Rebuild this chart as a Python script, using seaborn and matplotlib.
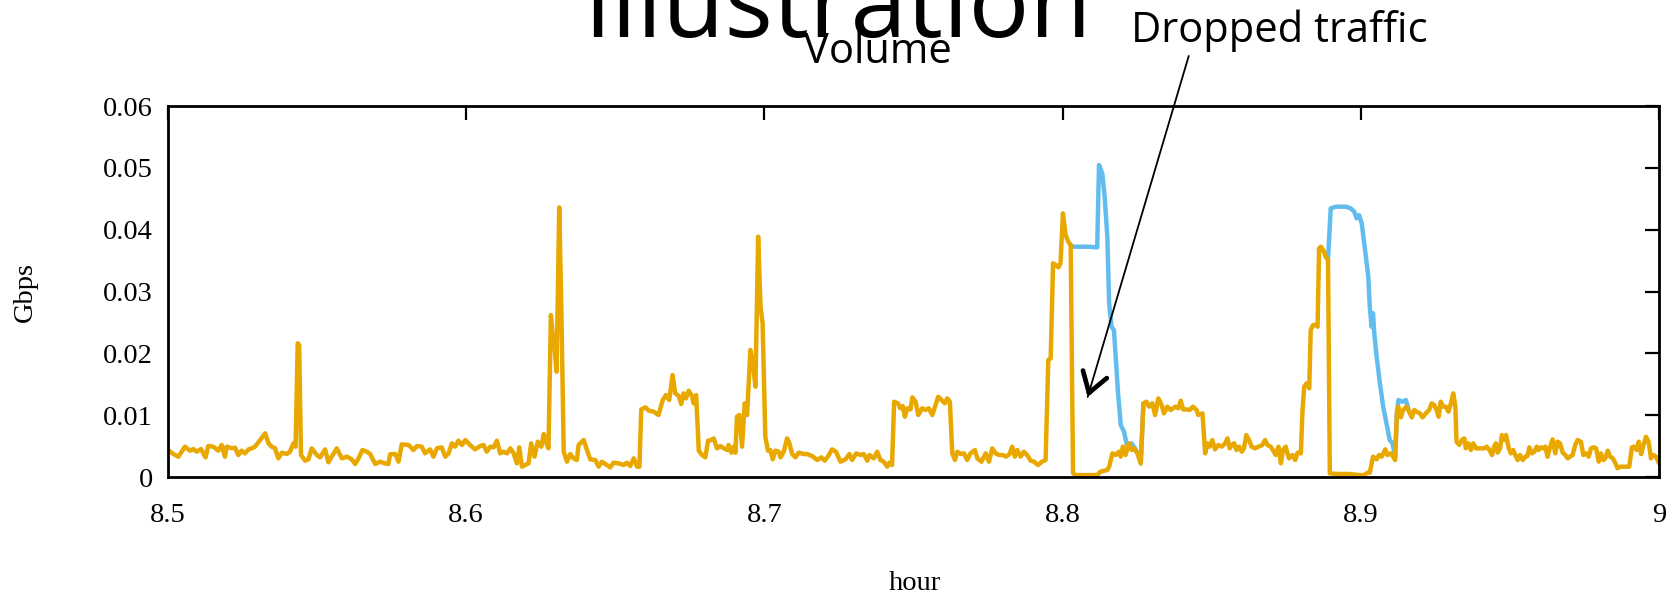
import pandas as pd
import numpy as np

import seaborn as sns
import matplotlib.pyplot as plt


# delivered traffic (orange), hour of day vs Gbps
hours_out = [
    8.5000, 8.5018, 8.5035, 8.5057, 8.5074, 8.5085, 8.5096, 8.5111, 8.5126, 8.5135,
    8.5152, 8.5169, 8.5180, 8.5191, 8.5197, 8.5214, 8.5225, 8.5236, 8.5247, 8.5258,
    8.5270, 8.5281, 8.5292, 8.5309, 8.5326, 8.5337, 8.5348, 8.5359, 8.5370, 8.5382,
    8.5398, 8.5409, 8.5421, 8.5428, 8.5435, 8.5440, 8.5446, 8.5460, 8.5471, 8.5482,
    8.5499, 8.5510, 8.5527, 8.5538, 8.5549, 8.5566, 8.5583, 8.5600, 8.5616, 8.5628,
    8.5639, 8.5652, 8.5667, 8.5678, 8.5695, 8.5711, 8.5728, 8.5739, 8.5745, 8.5762,
    8.5773, 8.5784, 8.5807, 8.5823, 8.5835, 8.5851,
    8.5862, 8.5879, 8.5890, 8.5902, 8.5918, 8.5930, 8.5941, 8.5952, 8.5963, 8.5974,
    8.5986, 8.5997, 8.6013, 8.6030, 8.6047, 8.6058, 8.6069, 8.6081, 8.6092, 8.6103,
    8.6114, 8.6125, 8.6137, 8.6148, 8.6159, 8.6170, 8.6178, 8.6187, 8.6198, 8.6209,
    8.6218, 8.6229, 8.6240, 8.6252, 8.6260, 8.6267, 8.6276, 8.6284, 8.6291, 8.6296,
    8.6303, 8.6312, 8.6319, 8.6327, 8.6338, 8.6349, 8.6360, 8.6371, 8.6377, 8.6394,
    8.6405, 8.6416, 8.6433, 8.6444, 8.6455, 8.6472, 8.6483, 8.6494, 8.6511, 8.6528,
    8.6539, 8.6550, 8.6562, 8.6573, 8.6581, 8.6587, 8.6601, 8.6612, 8.6629, 8.6645,
    8.6659, 8.6670, 8.6681, 8.6692, 8.6701,
    8.6713, 8.6721, 8.6729, 8.6737, 8.6746, 8.6757, 8.6763, 8.6771, 8.6780, 8.6791,
    8.6802, 8.6811, 8.6822, 8.6830, 8.6841, 8.6852, 8.6864, 8.6875, 8.6880, 8.6889,
    8.6897, 8.6903, 8.6908, 8.6916, 8.6925, 8.6934, 8.6942, 8.6953, 8.6961, 8.6970,
    8.6979, 8.6987, 8.6994, 8.7003, 8.7012, 8.7020, 8.7028, 8.7037, 8.7048, 8.7054,
    8.7065, 8.7076, 8.7084, 8.7093, 8.7104, 8.7115, 8.7132, 8.7143, 8.7160, 8.7177,
    8.7191, 8.7202, 8.7214, 8.7227, 8.7240, 8.7255, 8.7272, 8.7285, 8.7294, 8.7308,
    8.7322, 8.7333, 8.7345, 8.7352, 8.7367, 8.7378, 8.7389, 8.7400, 8.7412, 8.7419,
    8.7428, 8.7435, 8.7448, 8.7456, 8.7464, 8.7471, 8.7479, 8.7490, 8.7496, 8.7507,
    8.7516, 8.7529, 8.7540,
    8.7551, 8.7563, 8.7572, 8.7583, 8.7594, 8.7605, 8.7613, 8.7622, 8.7630, 8.7639,
    8.7647, 8.7658, 8.7669, 8.7680, 8.7691, 8.7706, 8.7714, 8.7728, 8.7742, 8.7753,
    8.7764, 8.7775, 8.7787, 8.7800, 8.7811, 8.7822, 8.7831, 8.7840, 8.7848, 8.7859,
    8.7870, 8.7881, 8.7893, 8.7904, 8.7918, 8.7930, 8.7943, 8.7952, 8.7960, 8.7968,
    8.7977, 8.7986, 8.7993, 8.8001, 8.8010, 8.8019, 8.8027, 8.8035, 8.8044, 8.8066,
    8.8088, 8.8116, 8.8127, 8.8139, 8.8150, 8.8156, 8.8167, 8.8178, 8.8189, 8.8195,
    8.8202, 8.8211, 8.8222, 8.8231, 8.8239, 8.8251, 8.8262, 8.8271, 8.8281, 8.8290,
    8.8301, 8.8310, 8.8321, 8.8332, 8.8340, 8.8351, 8.8362, 8.8379,
    8.8388, 8.8396, 8.8404, 8.8415, 8.8426, 8.8437, 8.8449, 8.8455, 8.8469, 8.8478,
    8.8485, 8.8493, 8.8502, 8.8511, 8.8522, 8.8534, 8.8545, 8.8553, 8.8560, 8.8567,
    8.8575, 8.8583, 8.8592, 8.8601, 8.8608, 8.8616, 8.8625, 8.8634, 8.8645, 8.8657,
    8.8670, 8.8679, 8.8687, 8.8698, 8.8706, 8.8715, 8.8724, 8.8732, 8.8739, 8.8748,
    8.8759, 8.8771, 8.8780, 8.8788, 8.8799, 8.8804, 8.8810, 8.8818, 8.8827, 8.8832,
    8.8840, 8.8849, 8.8855, 8.8860, 8.8866, 8.8874, 8.8882, 8.8890, 8.8896, 8.8927,
    8.8961, 8.8994, 8.9011, 8.9022, 8.9030, 8.9041, 8.9053, 8.9061, 8.9070, 8.9082,
    8.9089, 8.9101, 8.9115, 8.9121, 8.9126, 8.9134, 8.9142, 8.9153, 8.9162, 8.9171,
    8.9179, 8.9187, 8.9198, 8.9207, 8.9218,
    8.9229, 8.9238, 8.9246, 8.9254, 8.9261, 8.9268, 8.9276, 8.9285, 8.9294, 8.9302,
    8.9310, 8.9317, 8.9321, 8.9330, 8.9339, 8.9347, 8.9352, 8.9361, 8.9369, 8.9377,
    8.9386, 8.9395, 8.9403, 8.9414, 8.9422, 8.9431, 8.9440, 8.9447, 8.9453, 8.9459,
    8.9467, 8.9473, 8.9481, 8.9487, 8.9496, 8.9503, 8.9511, 8.9518, 8.9526, 8.9534,
    8.9543, 8.9552, 8.9559, 8.9565, 8.9574, 8.9582, 8.9590, 8.9596, 8.9604, 8.9612,
    8.9619, 8.9626, 8.9632, 8.9643, 8.9652, 8.9660, 8.9668, 8.9677, 8.9686, 8.9694,
    8.9701, 8.9710, 8.9719, 8.9727, 8.9738, 8.9746, 8.9755, 8.9764, 8.9772, 8.9780,
    8.9789, 8.9798, 8.9805, 8.9813, 8.9820, 8.9828, 8.9836, 8.9845, 8.9854, 8.9861,
    8.9869, 8.9878, 8.9889, 8.9900, 8.9909, 8.9917, 8.9925, 8.9932, 8.9940, 8.9945,
    8.9956, 8.9965, 8.9973, 8.9981, 8.9990, 9.0000,
]
gbps_out = [
    0.00437, 0.00372, 0.00329, 0.00491, 0.00426, 0.00453, 0.00410, 0.00453, 0.00318, 0.00501,
    0.00491, 0.00426, 0.00518, 0.00329, 0.00491, 0.00464, 0.00474, 0.00356, 0.00426, 0.00383,
    0.00447, 0.00464, 0.00491, 0.00598, 0.00706, 0.00545, 0.00491, 0.00464, 0.00302, 0.00394,
    0.00372, 0.00410, 0.00545, 0.00491, 0.02162, 0.02135, 0.00356, 0.00264, 0.00286, 0.00464,
    0.00356, 0.00318, 0.00447, 0.00237, 0.00329, 0.00464, 0.00302, 0.00329, 0.00286, 0.00210,
    0.00302, 0.00437, 0.00410, 0.00372, 0.00210, 0.00248, 0.00221, 0.00210, 0.00367, 0.00372,
    0.00248, 0.00528, 0.00518, 0.00437, 0.00501, 0.00491,
    0.00383, 0.00447, 0.00329, 0.00464, 0.00480, 0.00329, 0.00383, 0.00545, 0.00491, 0.00588,
    0.00518, 0.00598, 0.00518, 0.00447, 0.00501, 0.00518, 0.00410, 0.00491, 0.00480, 0.00588,
    0.00383, 0.00410, 0.00383, 0.00464, 0.00383, 0.00221, 0.00480, 0.00167, 0.00194, 0.00221,
    0.00545, 0.00329, 0.00571, 0.00491, 0.00695, 0.00571, 0.00464, 0.02620, 0.02270, 0.02108,
    0.01704, 0.04361, 0.02755, 0.00410, 0.00248, 0.00372, 0.00302, 0.00275, 0.00518, 0.00598,
    0.00437, 0.00286, 0.00275, 0.00167, 0.00248, 0.00194, 0.00156, 0.00232, 0.00221, 0.00194,
    0.00232, 0.00178, 0.00302, 0.00167, 0.00167, 0.01094, 0.01127, 0.01073, 0.01057, 0.01003,
    0.01245, 0.01326, 0.01245, 0.01650, 0.01353,
    0.01310, 0.01181, 0.01353, 0.01272, 0.01396, 0.01310, 0.01191, 0.01326, 0.00426, 0.00356,
    0.00318, 0.00588, 0.00598, 0.00625, 0.00464, 0.00501, 0.00464, 0.00437, 0.00518, 0.00394,
    0.00491, 0.00394, 0.00976, 0.01003, 0.00491, 0.01191, 0.01003, 0.02054, 0.01865, 0.01461,
    0.03887, 0.02755, 0.02485, 0.00652, 0.00426, 0.00437, 0.00286, 0.00426, 0.00410, 0.00318,
    0.00410, 0.00625, 0.00545, 0.00372, 0.00318, 0.00394, 0.00372, 0.00372, 0.00340, 0.00275,
    0.00318, 0.00264, 0.00340, 0.00447, 0.00410, 0.00248, 0.00286, 0.00372, 0.00275, 0.00383,
    0.00356, 0.00372, 0.00264, 0.00356, 0.00302, 0.00410, 0.00275, 0.00248, 0.00167, 0.00232,
    0.00194, 0.01218, 0.01191, 0.01111, 0.01148, 0.00976, 0.01111, 0.01094, 0.01288, 0.01218,
    0.01003, 0.01111, 0.01084,
    0.01111, 0.01003, 0.01138, 0.01299, 0.01245, 0.01191, 0.01272, 0.01218, 0.00383, 0.00275,
    0.00410, 0.00372, 0.00383, 0.00275, 0.00383, 0.00437, 0.00302, 0.00248, 0.00383, 0.00248,
    0.00464, 0.00383, 0.00356, 0.00356, 0.00329, 0.00372, 0.00491, 0.00329, 0.00437, 0.00329,
    0.00410, 0.00356, 0.00264, 0.00248, 0.00194, 0.00248, 0.00275, 0.01892, 0.01919, 0.03456,
    0.03429, 0.03391, 0.03456, 0.04264, 0.03914, 0.03806, 0.03752, 0.00059, 0.00032, 0.00032,
    0.00032, 0.00032, 0.00086, 0.00102, 0.00113, 0.00167, 0.00383, 0.00356, 0.00410, 0.00329,
    0.00491, 0.00356, 0.00545, 0.00437, 0.00464, 0.00383, 0.00221, 0.01191, 0.01218, 0.01138,
    0.01191, 0.01003, 0.01272, 0.01164, 0.01030, 0.01138, 0.01084, 0.01138,
    0.01111, 0.01235, 0.01094, 0.01094, 0.01084, 0.01138, 0.01084, 0.01003, 0.01030, 0.00383,
    0.00545, 0.00491, 0.00598, 0.00447, 0.00518, 0.00491, 0.00545, 0.00625, 0.00464, 0.00518,
    0.00545, 0.00437, 0.00491, 0.00410, 0.00464, 0.00679, 0.00598, 0.00491, 0.00464, 0.00491,
    0.00518, 0.00598, 0.00518, 0.00491, 0.00426, 0.00356, 0.00491, 0.00221, 0.00437, 0.00491,
    0.00302, 0.00356, 0.00275, 0.00394, 0.00383, 0.01030, 0.01461, 0.01515, 0.01434, 0.02377,
    0.02458, 0.02458, 0.02431, 0.03698, 0.03725, 0.03671, 0.03563, 0.03510, 0.00059, 0.00049,
    0.00049, 0.00032, 0.00032, 0.00070, 0.00070, 0.00329, 0.00286, 0.00356, 0.00329, 0.00447,
    0.00356, 0.00383, 0.00275, 0.01030, 0.01138, 0.00965, 0.01084, 0.01138, 0.01057, 0.00965,
    0.01084, 0.01057, 0.01030, 0.00965, 0.01030,
    0.01084, 0.01191, 0.01164, 0.01084, 0.00976, 0.01218, 0.01138, 0.01138, 0.01057, 0.01191,
    0.01353, 0.01138, 0.00571, 0.00518, 0.00598, 0.00625, 0.00464, 0.00545, 0.00437, 0.00545,
    0.00464, 0.00464, 0.00464, 0.00464, 0.00491, 0.00437, 0.00356, 0.00491, 0.00545, 0.00394,
    0.00464, 0.00679, 0.00598, 0.00679, 0.00464, 0.00383, 0.00437, 0.00356, 0.00275, 0.00356,
    0.00275, 0.00329, 0.00340, 0.00480, 0.00383, 0.00410, 0.00491, 0.00437, 0.00480, 0.00464,
    0.00491, 0.00329, 0.00437, 0.00609, 0.00383, 0.00571, 0.00545, 0.00394, 0.00356, 0.00302,
    0.00329, 0.00356, 0.00518, 0.00598, 0.00571, 0.00356, 0.00383, 0.00329, 0.00464, 0.00480,
    0.00464, 0.00248, 0.00383, 0.00275, 0.00302, 0.00426, 0.00329, 0.00302, 0.00221, 0.00140,
    0.00167, 0.00167, 0.00167, 0.00167, 0.00480, 0.00491, 0.00437, 0.00571, 0.00372, 0.00464,
    0.00652, 0.00571, 0.00302, 0.00356, 0.00329, 0.00221,
]

# offered traffic (blue), only where it differs from the delivered one
burst_in = [1] * 23 + [2] * 27
hours_in = [
    8.8027, 8.8035, 8.8066, 8.8088, 8.8116, 8.8122, 8.8133, 8.8141, 8.8150, 8.8156,
    8.8164, 8.8172, 8.8178, 8.8186, 8.8195, 8.8206, 8.8214, 8.8222, 8.8231, 8.8243,
    8.8254, 8.8262, 8.8271,
    8.8890, 8.8899, 8.8916, 8.8950, 8.8966, 8.8978, 8.8986, 8.8994, 8.9003, 8.9017,
    8.9025, 8.9030, 8.9036, 8.9041, 8.9045, 8.9053, 8.9064, 8.9075, 8.9086, 8.9097,
    8.9106, 8.9115, 8.9121, 8.9126, 8.9140, 8.9151, 8.9162,
]
gbps_in = [
    0.03752, 0.03725, 0.03725, 0.03725, 0.03714, 0.05046, 0.04911, 0.04534, 0.03887, 0.02809,
    0.02431, 0.02377, 0.01946, 0.01353, 0.00841, 0.00733, 0.00545, 0.00491, 0.00545, 0.00464,
    0.00356, 0.00221, 0.01191,
    0.03510, 0.04345, 0.04372, 0.04372, 0.04345, 0.04291, 0.04184, 0.04237, 0.04103, 0.03563,
    0.03240, 0.02755, 0.02431, 0.02647, 0.02324, 0.01946, 0.01515, 0.01138, 0.00868, 0.00598,
    0.00545, 0.00329, 0.01030, 0.01245, 0.01218, 0.01245, 0.01057,
]

x_ticks = [8.5, 8.6, 8.7, 8.8, 8.9, 9.0]
x_ticklabels = ["8.5", "8.6", "8.7", "8.8", "8.9", "9"]
y_ticks = [0, 0.01, 0.02, 0.03, 0.04, 0.05, 0.06]
y_ticklabels = ["0", "0.01", "0.02", "0.03", "0.04", "0.05", "0.06"]

df_out = pd.DataFrame({"hour": hours_out, "Gbps": gbps_out})
df_in = pd.DataFrame({"hour": hours_in, "Gbps": gbps_in, "burst": burst_in})

sns.set_style("white")
plt.rcParams['font.family'] = ['Liberation Serif', 'DejaVu Serif']
plt.rcParams['text.color'] = 'black'
plt.rcParams['axes.labelcolor'] = 'black'

fig = plt.figure(figsize=(16.78, 5.98), dpi=100)
ax = fig.add_axes([0.1001, 0.2023, 0.8886, 0.6204])

sns.lineplot(data=df_in, x="hour", y="Gbps", units="burst", estimator=None,
             sort=False, color="#62BDEE", linewidth=3.2, ax=ax)
sns.lineplot(data=df_out, x="hour", y="Gbps", estimator=None,
             sort=False, color="#E8A800", linewidth=3.2, ax=ax)

ax.set_xlim(8.5, 9.0)
ax.set_ylim(0, 0.06)
ax.set_xticks(x_ticks)
ax.set_xticklabels(x_ticklabels)
ax.set_yticks(y_ticks)
ax.set_yticklabels(y_ticklabels)
ax.tick_params(direction='in', top=True, right=True, length=10, width=1.6,
               labelsize=20.5, colors='black')
ax.tick_params(axis='x', pad=19)
ax.tick_params(axis='y', pad=11)
for sp in ax.spines.values():
    sp.set_linewidth(2)
    sp.set_color('black')

ax.set_xlabel("hour", fontsize=20.5)
ax.set_ylabel("Gbps", fontsize=20.5)
ax.xaxis.set_label_coords(0.501, -0.254)
ax.yaxis.set_label_coords(-0.0872, 0.5)

# slide titles and the callout
fig.text(0.499, 0.938, "Illustration", family="Open Sans", fontsize=73,
         ha="center", va="baseline")
fig.text(0.523, 0.8946, "Volume", family="Open Sans", fontsize=30,
         ha="center", va="baseline")
fig.text(0.7625, 0.9298, "Dropped traffic", family="Open Sans", fontsize=30,
         ha="center", va="baseline")

tip = (8.8084, 0.01294)
ax.annotate("", xy=tip, xytext=(8.8423, 0.0681),
            arrowprops=dict(arrowstyle="-", lw=1.3, color="black",
                            shrinkA=0, shrinkB=0),
            annotation_clip=False)
ax.annotate("", xy=tip, xytext=(8.8090, 0.01385),
            arrowprops=dict(arrowstyle="->,head_length=0.7,head_width=0.45",
                            lw=3.4, color="black", shrinkA=0, shrinkB=0,
                            mutation_scale=20),
            annotation_clip=False)

plt.savefig("out.png", dpi=100)
